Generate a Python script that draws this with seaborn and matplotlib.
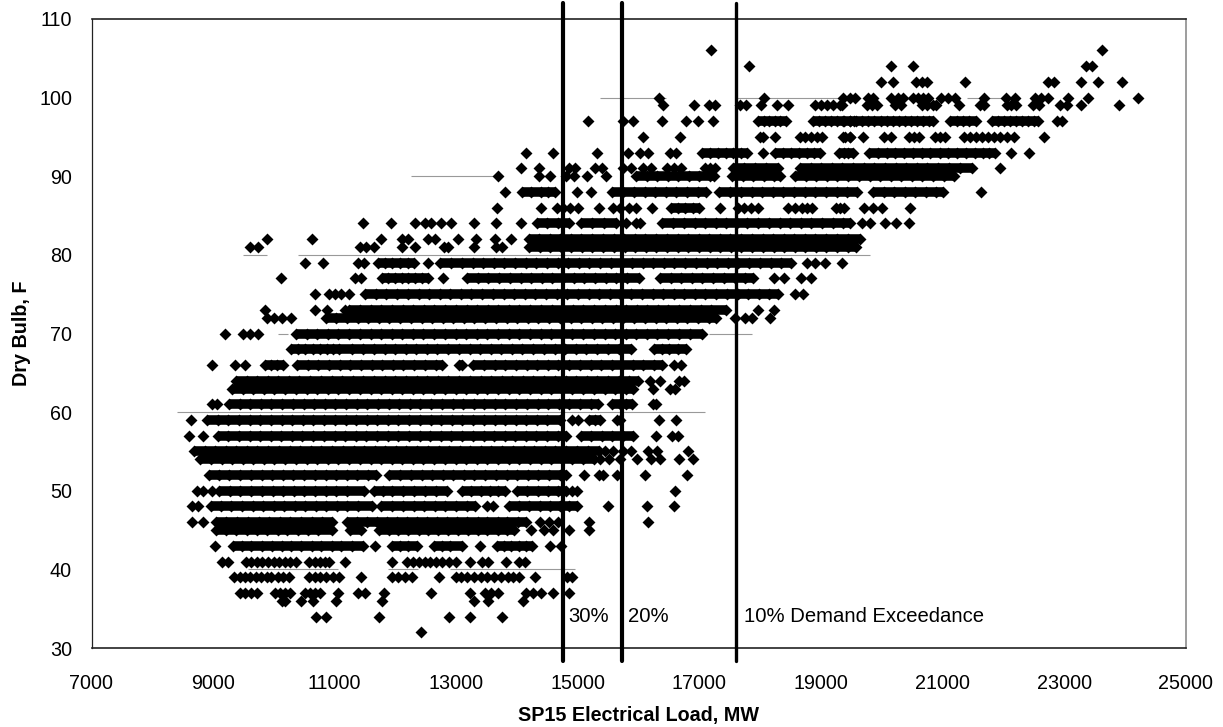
import matplotlib
matplotlib.use("Agg")
import matplotlib.pyplot as plt
import pandas as pd
import seaborn as sns

# Load (MW) for each dry bulb row (F)
load_32 = [12420]
load_34 = [10700, 10850, 11730, 12880, 13230, 13750]
load_36 = [10130, 10190, 10450, 10650, 11030, 11780, 13290, 13520, 14100]
load_37 = [9440, 9530, 9620, 9720, 10020, 10100, 10180, 10270, 10510, 10590, 10680, 10760, 11060, 11390,
           11500, 11810, 12580, 13220, 13470, 13580, 13690, 14150, 14260, 14400, 14590, 14860]
load_39 = [9350, 9440, 9520, 9610, 9700, 9790, 9880, 9960, 10060, 10150, 10250, 10580, 10680, 10760, 10860,
           10970, 11070, 11440, 11950, 12040, 12160, 12270, 12710, 12990, 13080, 13180, 13290, 13400, 13500,
           13620, 13730, 13850, 13940, 14030, 14290, 14820, 14900]
load_41 = [9150, 9250, 9540, 9630, 9720, 9810, 9900, 10000, 10090, 10180, 10270, 10360, 10580, 10670, 10760,
           10840, 10910, 11170, 11940, 12190, 12290, 12390, 12480, 12570, 12660, 12760, 12880, 12990, 13230,
           13430, 13530, 13820, 14030, 14130]
load_43 = [9030, 9320, 9480, 9630, 9810, 9970, 10130, 10290, 10450, 10620, 10780, 10950, 11110, 11280, 11460,
           11660, 11950, 12080, 12210, 12360, 12630, 12760, 12900, 13100, 13390, 13670, 13790, 13900, 14040,
           14150, 14250, 14550, 14720]
load_45 = [9050, 9210, 9380, 9550, 9720, 9890, 10060, 10220, 10390, 10560, 10730, 10950, 11260, 11430, 11730,
           11890, 12050, 12210, 12380, 12540, 12700, 12860, 13030, 13190, 13350, 13510, 13680, 13840, 13950,
           14230, 14450, 14590, 14860, 15180]
load_46 = [8650, 8840, 9050, 9220, 9400, 9570, 9750, 9920, 10100, 10270, 10450, 10620, 10800, 10950, 11200,
           11370, 11530, 11700, 11860, 12030, 12190, 12360, 12520, 12690, 12850, 13020, 13180, 13350, 13510,
           13680, 13840, 14010, 14150, 14370, 14530, 14670, 15180, 16150]
load_48 = [8650, 8760, 8960, 9130, 9300, 9480, 9650, 9820, 10000, 10170, 10340, 10520, 10690, 10860, 11040,
           11210, 11380, 11620, 11770, 11950, 12120, 12300, 12470, 12650, 12820, 13000, 13170, 13310, 13500,
           13600, 13860, 14030, 14200, 14370, 14540, 14710, 14860, 14990, 15490, 16140, 16590]
load_50 = [8730, 8840, 8980, 9100, 9280, 9450, 9630, 9800, 9980, 10150, 10330, 10500, 10680, 10850, 11030,
           11200, 11480, 11650, 11800, 11950, 12130, 12310, 12490, 12660, 12850, 13100, 13250, 13410, 13560,
           13690, 13800, 14000, 14170, 14340, 14510, 14680, 14810, 14900, 14990, 16600]
load_52 = [8930, 9100, 9270, 9450, 9620, 9800, 9970, 10150, 10320, 10500, 10670, 10850, 11020, 11200, 11370,
           11550, 11675, 11900, 12080, 12250, 12430, 12600, 12780, 12950, 13130, 13300, 13480, 13650, 13830,
           14000, 14180, 14350, 14530, 14700, 14800, 15100, 15350, 15410, 15650, 16110, 16800]
load_54 = [8790, 8960, 9140, 9310, 9490, 9660, 9840, 10010, 10190, 10360, 10540, 10710, 10890, 11060, 11240,
           11410, 11590, 11760, 11940, 12110, 12290, 12460, 12640, 12810, 12990, 13160, 13340, 13510, 13690,
           13860, 14040, 14210, 14390, 14560, 14740, 14910, 15090, 15260, 15360, 15510, 15690, 15970, 16200,
           16360, 16660, 16890]
load_55 = [8680, 8860, 9030, 9210, 9380, 9560, 9730, 9910, 10080, 10260, 10430, 10610, 10780, 10960, 11130,
           11310, 11480, 11660, 11830, 12010, 12180, 12360, 12530, 12710, 12880, 13060, 13230, 13410, 13580,
           13760, 13930, 14110, 14280, 14460, 14630, 14810, 14980, 15160, 15350, 15450, 15580, 15740, 15870,
           16150, 16310, 16820]
load_57 = [8610, 8840, 9075, 9250, 9420, 9600, 9770, 9950, 10120, 10300, 10470, 10650, 10820, 11000, 11170,
           11350, 11520, 11700, 11870, 12050, 12220, 12400, 12570, 12750, 12920, 13100, 13270, 13450, 13620,
           13800, 13970, 14150, 14320, 14500, 14670, 14800, 15050, 15220, 15400, 15570, 15750, 15900, 16280,
           16550, 16650]
load_59 = [8630, 8900, 9080, 9250, 9430, 9600, 9780, 9950, 10130, 10300, 10480, 10650, 10830, 11000, 11180,
           11350, 11530, 11700, 11880, 12050, 12230, 12400, 12580, 12750, 12930, 13100, 13280, 13450, 13630,
           13800, 13980, 14150, 14330, 14500, 14700, 14900, 15000, 15180, 15280, 15370, 15650, 15690, 16330,
           16620]
load_61 = [8990, 9060, 9260, 9440, 9610, 9790, 9960, 10140, 10310, 10490, 10660, 10840, 11010, 11190, 11360,
           11540, 11710, 11890, 12060, 12240, 12410, 12590, 12760, 12940, 13110, 13290, 13460, 13640, 13810,
           13990, 14160, 14340, 14510, 14690, 14860, 15040, 15210, 15330, 15570, 15700, 15800, 15890, 16230,
           16290]
load_63 = [9310, 9490, 9660, 9840, 10010, 10190, 10360, 10540, 10710, 10890, 11060, 11240, 11410, 11590, 11760,
           11940, 12110, 12290, 12460, 12640, 12810, 12990, 13160, 13340, 13510, 13690, 13860, 14040, 14210,
           14390, 14560, 14740, 14910, 15090, 15260, 15440, 15610, 15790, 15900, 16240, 16520, 16600]
load_64 = [9370, 9550, 9720, 9900, 10070, 10250, 10420, 10600, 10770, 10950, 11120, 11300, 11470, 11650, 11820,
           12000, 12170, 12350, 12520, 12700, 12870, 13050, 13220, 13400, 13570, 13750, 13920, 14100, 14270,
           14450, 14620, 14800, 14970, 15150, 15320, 15500, 15670, 15850, 15990, 16190, 16360, 16660, 16740]
load_66 = [8980, 9360, 9530, 9860, 9950, 10050, 10150, 10380, 10560, 10730, 10910, 11080, 11260, 11430, 11610,
           11780, 11960, 12130, 12310, 12480, 12660, 12770, 13040, 13100, 13280, 13460, 13630, 13810, 13980,
           14160, 14330, 14510, 14680, 14860, 15030, 15210, 15380, 15560, 15730, 15910, 16080, 16260, 16380,
           16590, 16700]
load_68 = [10280, 10400, 10520, 10640, 10760, 10880, 10980, 11070, 11290, 11470, 11640, 11820, 11990, 12170,
           12340, 12520, 12690, 12870, 13040, 13220, 13390, 13570, 13740, 13920, 14090, 14270, 14440, 14620,
           14790, 14970, 15140, 15320, 15490, 15670, 15880, 16260, 16380, 16500, 16640, 16780]
load_70 = [9190, 9500, 9600, 9740, 10360, 10540, 10710, 10890, 11060, 11240, 11410, 11590, 11760, 11940, 12110,
           12290, 12460, 12640, 12810, 12990, 13160, 13340, 13510, 13690, 13860, 14040, 14210, 14390, 14560,
           14740, 14910, 15090, 15260, 15440, 15610, 15790, 15960, 16140, 16310, 16490, 16660, 16840, 17050]
load_72 = [9880, 10000, 10130, 10290, 10850, 11030, 11200, 11380, 11550, 11730, 11900, 12080, 12250, 12430,
           12600, 12780, 12950, 13130, 13300, 13480, 13650, 13830, 14000, 14180, 14350, 14530, 14700, 14880,
           15050, 15230, 15400, 15580, 15750, 15930, 16100, 16280, 16450, 16630, 16800, 16980, 17150, 17280,
           17590, 17750, 17860, 18160]
load_73 = [9850, 10680, 10870, 11170, 11240, 11420, 11590, 11770, 11940, 12120, 12290, 12470, 12640, 12820,
           12990, 13170, 13340, 13520, 13690, 13870, 14040, 14220, 14390, 14570, 14740, 14920, 15090, 15270,
           15440, 15620, 15790, 15970, 16140, 16320, 16490, 16670, 16840, 17020, 17190, 17440, 17970, 18220]
load_75 = [10680, 10900, 11000, 11100, 11240, 11500, 11680, 11850, 12030, 12200, 12380, 12550, 12730, 12900,
           13080, 13250, 13430, 13600, 13780, 13950, 14130, 14300, 14480, 14650, 14830, 15000, 15180, 15350,
           15530, 15700, 15880, 16050, 16230, 16400, 16580, 16750, 16930, 17100, 17280, 17450, 17630, 17800,
           17980, 18150, 18290, 18570, 18710]
load_77 = [10110, 11330, 11430, 11780, 11880, 11990, 12100, 12210, 12320, 12430, 12540, 12780, 13180, 13360,
           13530, 13710, 13880, 14060, 14230, 14410, 14580, 14760, 14930, 15110, 15280, 15460, 15630, 15810,
           16010, 16350, 16530, 16700, 16880, 17050, 17230, 17400, 17580, 17750, 17880, 18220, 18400, 18670,
           18830]
load_79 = [10510, 10810, 11390, 11480, 11720, 11830, 11950, 12080, 12200, 12310, 12540, 12740, 12920, 13090,
           13270, 13440, 13620, 13790, 13970, 14140, 14320, 14490, 14670, 14840, 15020, 15190, 15370, 15540,
           15720, 15890, 16070, 16240, 16420, 16590, 16770, 16940, 17120, 17290, 17470, 17640, 17820, 17990,
           18170, 18340, 18500, 18770, 18900, 19070, 19350]
load_81 = [9610, 9740, 11410, 11510, 11640, 12100, 12320, 12800, 12870, 13300, 13650, 13750, 14190, 14370,
           14540, 14720, 14890, 15070, 15240, 15420, 15590, 15770, 15940, 16120, 16290, 16470, 16640, 16820,
           16990, 17170, 17340, 17520, 17690, 17870, 18040, 18220, 18390, 18570, 18740, 18920, 19090, 19270,
           19440, 19570]
load_82 = [9890, 10630, 11770, 12100, 12200, 12540, 12650, 13030, 13330, 13630, 13900, 14190, 14360, 14540,
           14710, 14890, 15060, 15240, 15410, 15590, 15760, 15940, 16110, 16290, 16460, 16640, 16810, 16990,
           17160, 17340, 17510, 17690, 17860, 18040, 18210, 18390, 18560, 18740, 18910, 19090, 19260, 19440,
           19650]
load_84 = [11470, 11930, 12320, 12480, 12590, 12750, 12920, 13290, 13660, 14070, 14330, 14500, 14680, 14850,
           15060, 15240, 15430, 15620, 15800, 15950, 16020, 16390, 16570, 16740, 16920, 17090, 17270, 17440,
           17620, 17790, 17970, 18140, 18320, 18490, 18670, 18840, 19020, 19190, 19370, 19470, 19670, 19800,
           20050, 20240, 20440]
load_86 = [13670, 14400, 14650, 14750, 14870, 15000, 15350, 15580, 15700, 15850, 15950, 16220, 16530, 16650,
           16770, 16890, 17000, 17340, 17630, 17740, 17850, 17960, 18450, 18570, 18680, 18770, 18860, 19240,
           19310, 19380, 19700, 19860, 20000, 20460]
load_88 = [13810, 14080, 14230, 14390, 14510, 14630, 14980, 15220, 15570, 15750, 15920, 16100, 16270, 16450,
           16620, 16800, 16970, 17110, 17330, 17510, 17680, 17860, 18030, 18210, 18380, 18560, 18730, 18910,
           19080, 19260, 19430, 19600, 19850, 20030, 20200, 20380, 20550, 20730, 20900, 21000, 21630]
load_90 = [13680, 14360, 14540, 14800, 14930, 15150, 15470, 15950, 16130, 16300, 16480, 16650, 16830, 17000,
           17180, 17240, 17530, 17710, 17880, 18060, 18230, 18330, 18570, 18750, 18920, 19100, 19270, 19450,
           19620, 19800, 19970, 20150, 20320, 20500, 20670, 20850, 21020, 21190]
load_91 = [14060, 14360, 14850, 14950, 15280, 15390, 15750, 15880, 16070, 16210, 16470, 16580, 16690, 17100,
           17180, 17260, 17560, 17740, 17910, 18090, 18300, 18650, 18830, 19000, 19180, 19350, 19530, 19700,
           19880, 20050, 20230, 20400, 20580, 20750, 20930, 21100, 21280, 21490, 21940]
load_93 = [14140, 14600, 15310, 15830, 16020, 16150, 16510, 16610, 17040, 17170, 17300, 17430, 17560, 17680,
           17780, 18040, 18250, 18380, 18510, 18640, 18770, 18880, 18990, 19290, 19380, 19450, 19520, 19790, 19930,
           20080, 20220, 20370, 20510, 20660, 20800, 20950, 21090, 21240, 21380, 21530, 21670, 21770, 21870,
           22130, 22430]
load_95 = [16070, 16680, 17990, 18050, 18250, 18650, 18740, 18830, 18930, 19020, 19400, 19480, 19360, 19470,
           19690, 20030, 20150, 20440, 20530, 20620, 20880, 20960, 21040, 21350, 21450, 21550, 21650, 21750,
           21850, 21950, 22060, 22170, 22670]
load_97 = [15160, 15750, 15910, 16390, 16780, 16980, 17220, 17970, 18060, 18150, 18240, 18330, 18420, 18870,
           18970, 19070, 19170, 19270, 19370, 19470, 19540, 19380, 19480, 19580, 19680, 19780, 19880, 19980,
           20080, 20180, 20280, 20380, 20480, 20580, 20680, 20780, 20840, 21130, 21230, 21330, 21440, 21550,
           21810, 21910, 22010, 22110, 22210, 22310, 22410, 22510, 22570, 22880, 22960]
load_99 = [16400, 16910, 17150, 17250, 17660, 17770, 18020, 18270, 18450, 18900, 19000, 19100, 19200, 19320,
           19340, 19760, 19840, 19920, 20220, 20310, 20660, 20750, 20840, 20900, 21270, 21610, 21690, 22060,
           22130, 22210, 22490, 22590, 22930, 23040, 23270, 23900]
load_100 = [16330, 18070, 19370, 19470, 19560, 19780, 19860, 20160, 20270, 20350, 20520, 20600, 20680, 20760,
            20980, 21090, 21200, 21690, 22050, 22190, 22520, 22620, 22730, 23060, 23390, 24210]
load_102 = [19980, 20190, 20570, 20660, 20740, 21370, 22730, 22840, 23270, 23560, 23950]
load_104 = [17820, 20160, 20520, 23360, 23460]
load_106 = [17190, 23630]

all_rows = {32: load_32, 34: load_34, 36: load_36, 37: load_37, 39: load_39, 41: load_41, 43: load_43,
            45: load_45, 46: load_46, 48: load_48, 50: load_50, 52: load_52, 54: load_54, 55: load_55,
            57: load_57, 59: load_59, 61: load_61, 63: load_63, 64: load_64, 66: load_66, 68: load_68,
            70: load_70, 72: load_72, 73: load_73, 75: load_75, 77: load_77, 79: load_79, 81: load_81,
            82: load_82, 84: load_84, 86: load_86, 88: load_88, 90: load_90, 91: load_91, 93: load_93,
            95: load_95, 97: load_97, 99: load_99, 100: load_100, 102: load_102, 104: load_104, 106: load_106}

# Stretches where the points overplot into a solid band: (F, from MW, to MW)
solid_runs = [(43, 9320, 11460), (43, 11950, 12360), (43, 12630, 13100), (43, 13670, 14250),
              (45, 9050, 10950), (45, 11260, 11430), (45, 11730, 13950),
              (46, 9050, 10950), (46, 11200, 14150),
              (48, 8960, 11620), (48, 11770, 13310), (48, 13860, 14990),
              (50, 9100, 11480), (50, 11650, 12850), (50, 13100, 13800), (50, 14000, 14810),
              (52, 8930, 11675), (52, 11900, 14800),
              (54, 8790, 15260), (55, 8680, 15350),
              (57, 9075, 14800), (57, 15050, 15900),
              (59, 8900, 14700), (59, 15180, 15370),
              (61, 9260, 15330), (61, 15570, 15890),
              (63, 9310, 15900), (64, 9370, 15990),
              (66, 9860, 10150), (66, 10380, 12770), (66, 13040, 13100), (66, 13280, 16380),
              (68, 10280, 15880), (68, 16260, 16780),
              (70, 10360, 17050), (72, 10850, 17280), (73, 11240, 17440), (75, 11500, 18290),
              (77, 11780, 12540), (77, 13180, 16010), (77, 16350, 17880),
              (79, 11720, 12310), (79, 12740, 18500),
              (81, 14190, 19570), (82, 14190, 19650),
              (84, 14330, 14850), (84, 15060, 15620), (84, 16390, 19470),
              (86, 16530, 17000), (88, 14080, 14630), (88, 15570, 17110), (88, 17330, 19600), (88, 19850, 21000),
              (90, 15950, 17240), (90, 17530, 18330), (90, 18570, 21190),
              (91, 17560, 18300), (91, 18650, 21490),
              (93, 17040, 17780), (93, 18250, 18990), (93, 19290, 19520), (93, 19790, 21870),
              (97, 17970, 18420), (97, 18870, 20840), (97, 21130, 21550), (97, 21810, 22570)]

# What survives of the gridlines in the scan: (F, from MW, to MW)
grid_pieces = [(100, 15360, 16450), (100, 17580, 19400), (100, 21400, 22200),
               (90, 12260, 13660), (80, 9500, 9880), (80, 10400, 19800),
               (70, 10070, 10240), (70, 17150, 17860), (60, 8400, 17090),
               (40, 9580, 11060), (40, 11880, 12370), (40, 12900, 14950)]

exceedance_load = [14750, 15720, 17610]
exceedance_width = [3.0, 3.0, 2.4]
exceedance_text = [(14850, "30%"), (15830, "20%"), (17730, "10% Demand Exceedance")]

x_ticks = list(range(7000, 25001, 2000))
y_ticks = list(range(30, 111, 10))

df = pd.DataFrame([(load, temp) for temp, loads in all_rows.items() for load in loads],
                  columns=["load", "dry_bulb"])

sns.set_style("white")
plt.rcParams["font.family"] = ["Liberation Sans", "DejaVu Sans"]

fig, ax = plt.subplots(figsize=(12.23, 7.27), dpi=100)
fig.subplots_adjust(left=91.5 / 1223, right=1185.7 / 1223, top=1 - 19 / 727, bottom=1 - 648 / 727)

ax.hlines([g[0] for g in grid_pieces], [g[1] for g in grid_pieces], [g[2] for g in grid_pieces],
          color="#999999", linewidth=0.8, zorder=1)
ax.hlines([r[0] for r in solid_runs], [r[1] for r in solid_runs], [r[2] for r in solid_runs],
          color="black", linewidth=6.9, zorder=2)
sns.scatterplot(data=df, x="load", y="dry_bulb", marker="D", s=37, color="black", linewidth=0,
                legend=False, zorder=3, ax=ax)

for load, width in zip(exceedance_load, exceedance_width):
    ax.axvline(load, ymin=-0.021, ymax=1.025, color="black", linewidth=width, clip_on=False, zorder=4)
for load, label in exceedance_text:
    ax.text(load, 34, label, fontsize=14.6, va="center", ha="left", color="black")

ax.set_xlim(7000, 25000)
ax.set_ylim(30, 110)
ax.set_xticks(x_ticks)
ax.set_yticks(y_ticks)
ax.tick_params(axis="both", labelsize=14.2, length=5, width=0.7, color="#555555", labelcolor="black")
ax.tick_params(axis="x", pad=14)
ax.tick_params(axis="y", pad=9)

ax.set_xlabel("SP15 Electrical Load, MW", fontsize=14.2, fontweight="bold", color="black")
ax.set_ylabel("Dry Bulb, F", fontsize=14.2, fontweight="bold", color="black")
ax.xaxis.set_label_coords(0.5, -0.093)
ax.yaxis.set_label_coords(-0.055, 0.5)

for side in ["top", "bottom", "left"]:
    ax.spines[side].set_color("#222222")
    ax.spines[side].set_linewidth(1.2)
ax.spines["left"].set_linewidth(0.9)
ax.spines["right"].set_color("#8c8c8c")
ax.spines["right"].set_linewidth(1.2)

fig.savefig("out.png", dpi=100)
